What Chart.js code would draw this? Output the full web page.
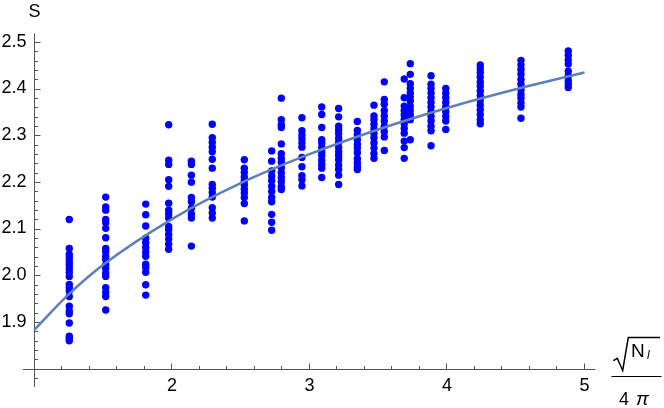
<!DOCTYPE html>
<html>
<head>
<meta charset="utf-8">
<script src="https://cdn.jsdelivr.net/npm/chart.js@4.4.1/dist/chart.umd.min.js"></script>
<style>
  html, body { margin: 0; padding: 0; background: #fff; }
  #wrap { width: 664px; height: 408px; }
</style>
</head>
<body>
<div id="wrap"><canvas id="c" width="664" height="408"></canvas></div>
<script>
// x position of each column of samples (sqrt(N_l)/4pi)
var colX = [1.253, 1.518, 1.809, 1.976, 2.141, 2.293, 2.526, 2.725, 2.795, 2.945, 3.089,
            3.212, 3.348, 3.469, 3.544, 3.689, 3.733, 3.884, 3.991, 4.242, 4.538, 4.882];

// S values read for each column
var colY = [
  [2.121, 2.059, 2.046, 2.039, 2.031, 2.024, 2.016, 2.008, 1.999, 1.982, 1.975, 1.968, 1.956, 1.935, 1.925, 1.919, 1.899, 1.871, 1.866, 1.861],
  [2.169, 2.148, 2.141, 2.121, 2.114, 2.102, 2.082, 2.059, 2.052, 2.042, 2.035, 2.024, 2.016, 2.006, 1.999, 1.975, 1.965, 1.956, 1.927],
  [2.154, 2.131, 2.107, 2.081, 2.071, 2.061, 2.051, 2.042, 2.025, 2.018, 2.008, 1.981, 1.959],
  [2.324, 2.248, 2.239, 2.206, 2.192, 2.156, 2.141, 2.133, 2.124, 2.106, 2.099, 2.089, 2.079, 2.068, 2.057],
  [2.246, 2.239, 2.216, 2.201, 2.168, 2.159, 2.145, 2.133, 2.124, 2.064],
  [2.325, 2.296, 2.286, 2.276, 2.266, 2.250, 2.231, 2.196, 2.188, 2.179, 2.169, 2.146, 2.135, 2.124],
  [2.249, 2.231, 2.222, 2.212, 2.204, 2.195, 2.186, 2.178, 2.168, 2.155, 2.118],
  [2.268, 2.246, 2.225, 2.214, 2.204, 2.192, 2.181, 2.168, 2.159, 2.132, 2.115, 2.098],
  [2.381, 2.335, 2.324, 2.318, 2.283, 2.262, 2.252, 2.244, 2.232, 2.221, 2.211, 2.202, 2.191, 2.185],
  [2.339, 2.311, 2.302, 2.294, 2.285, 2.276, 2.254, 2.234, 2.215, 2.206, 2.193],
  [2.362, 2.346, 2.318, 2.292, 2.285, 2.275, 2.266, 2.258, 2.248, 2.239, 2.231, 2.211],
  [2.359, 2.341, 2.321, 2.313, 2.305, 2.295, 2.286, 2.275, 2.266, 2.258, 2.249, 2.238, 2.228, 2.216, 2.196],
  [2.331, 2.312, 2.302, 2.292, 2.282, 2.274, 2.264, 2.251, 2.242, 2.234, 2.228],
  [2.366, 2.343, 2.335, 2.325, 2.315, 2.305, 2.296, 2.285, 2.274, 2.262, 2.252],
  [2.416, 2.378, 2.368, 2.354, 2.343, 2.332, 2.321, 2.309, 2.298, 2.269],
  [2.422, 2.382, 2.364, 2.354, 2.345, 2.335, 2.326, 2.316, 2.306, 2.289, 2.275, 2.252],
  [2.455, 2.432, 2.412, 2.402, 2.392, 2.384, 2.375, 2.364, 2.354, 2.345, 2.335, 2.292],
  [2.429, 2.411, 2.402, 2.392, 2.382, 2.372, 2.362, 2.352, 2.342, 2.332, 2.321, 2.311, 2.279],
  [2.402, 2.392, 2.382, 2.372, 2.362, 2.352, 2.342, 2.332, 2.314],
  [2.452, 2.444, 2.435, 2.426, 2.415, 2.406, 2.396, 2.386, 2.376, 2.366, 2.356, 2.346, 2.335, 2.326],
  [2.462, 2.452, 2.442, 2.432, 2.421, 2.411, 2.399, 2.389, 2.381, 2.371, 2.362, 2.338],
  [2.482, 2.473, 2.463, 2.454, 2.439, 2.429, 2.419, 2.411, 2.404]
];

// fitted curve
var fitX = [1, 1.25, 1.5, 2, 2.5, 3, 3.5, 4, 4.5, 5];
var fitY = [1.885, 1.961, 2.024, 2.122, 2.199, 2.261, 2.314, 2.360, 2.400, 2.436];

// tick labels
var xTickLabels = ['2', '3', '4', '5'];
var yTickLabels = ['1.9', '2.0', '2.1', '2.2', '2.3', '2.4', '2.5'];

var points = [];
colX.forEach(function(x, i) {
  colY[i].forEach(function(v) { points.push({x: x, y: v}); });
});
var fitLine = fitX.map(function(x, i) { return {x: x, y: fitY[i]}; });

var FONT = '18px "Liberation Sans", Arial, sans-serif';

// Mathematica-like axes crossing at (1, 1.8), ticks pointing inward
var axesPlugin = {
  id: 'mmaAxes',
  beforeDatasetsDraw: function(chart) {
    var ctx = chart.ctx, a = chart.chartArea;
    var xs = chart.scales.x, ys = chart.scales.y;
    var ox = Math.round(xs.getPixelForValue(1) - 0.5) + 0.5;
    var oy = Math.round(ys.getPixelForValue(1.8) - 0.5) + 0.5;
    ctx.save();
    ctx.strokeStyle = '#555';
    ctx.lineWidth = 1;
    ctx.beginPath();
    ctx.moveTo(a.left, oy); ctx.lineTo(a.right, oy);
    ctx.moveTo(ox, a.top); ctx.lineTo(ox, a.bottom);
    // x ticks every 0.2
    for (var i = 6; i <= 25; i++) {
      var px = Math.round(xs.getPixelForValue(i / 5) - 0.5) + 0.5;
      var len = (i % 5 === 0) ? 6 : 3.5;
      ctx.moveTo(px, oy); ctx.lineTo(px, oy - len);
    }
    // y ticks every 0.02
    for (var j = 89; j <= 125; j++) {
      if (j === 90) continue;
      var py = Math.round(ys.getPixelForValue(j / 50) - 0.5) + 0.5;
      var l2 = (j % 5 === 0) ? 6 : 3.5;
      ctx.moveTo(ox, py); ctx.lineTo(ox + l2, py);
    }
    ctx.stroke();

    // tick labels
    ctx.fillStyle = '#000';
    ctx.font = FONT;
    ctx.textAlign = 'center';
    ctx.textBaseline = 'middle';
    xTickLabels.forEach(function(t) {
      ctx.fillText(t, xs.getPixelForValue(parseFloat(t)), oy + 17);
    });
    ctx.textAlign = 'right';
    yTickLabels.forEach(function(t) {
      ctx.fillText(t, ox - 8, ys.getPixelForValue(parseFloat(t)) - 1);
    });

    // y axis title
    ctx.textAlign = 'center';
    ctx.fillText('S', ox, 12);

    // x axis title: sqrt(N_l) / (4 pi)
    ctx.lineWidth = 1.5;
    ctx.strokeStyle = '#000';
    ctx.beginPath();
    ctx.moveTo(613.3, 360.7);
    ctx.lineTo(617.3, 358.3);
    ctx.lineTo(622.7, 370.5);
    ctx.lineTo(628.3, 337.5);
    ctx.lineTo(660, 337.5);
    ctx.stroke();
    ctx.lineWidth = 1;
    ctx.beginPath();
    ctx.moveTo(611.5, 376.5); ctx.lineTo(661.5, 376.5);
    ctx.stroke();
    ctx.textAlign = 'left';
    ctx.textBaseline = 'alphabetic';
    ctx.font = '19px "Liberation Sans", Arial, sans-serif';
    ctx.fillText('N', 631, 357);
    ctx.font = 'italic 12px "Liberation Sans", Arial, sans-serif';
    ctx.fillText('l', 647, 359);
    ctx.font = FONT;
    ctx.fillText('4', 619, 405);
    ctx.font = 'italic 19px "Liberation Sans", Arial, sans-serif';
    ctx.fillText('\u03c0', 636, 405);
    ctx.restore();
  }
};

new Chart(document.getElementById('c').getContext('2d'), {
  type: 'scatter',
  data: {
    datasets: [
      {
        label: 'fit',
        data: fitLine,
        showLine: true,
        borderColor: '#5E81B5',
        borderWidth: 2.6,
        pointRadius: 0,
        cubicInterpolationMode: 'monotone',
        fill: false
      },
      {
        label: 'S',
        data: points,
        backgroundColor: '#0000ff',
        borderWidth: 0,
        pointRadius: 3.7
      }
    ]
  },
  options: {
    responsive: false,
    devicePixelRatio: 1,
    animation: false,
    events: [],
    layout: { padding: { left: 22.8, right: 68.5, top: 33.3, bottom: 21 } },
    plugins: { legend: { display: false }, tooltip: { enabled: false } },
    scales: {
      x: { type: 'linear', min: 0.915, max: 5.08, display: false },
      y: { type: 'linear', min: 1.762, max: 2.52, display: false }
    }
  },
  plugins: [axesPlugin]
});
</script>
</body>
</html>
